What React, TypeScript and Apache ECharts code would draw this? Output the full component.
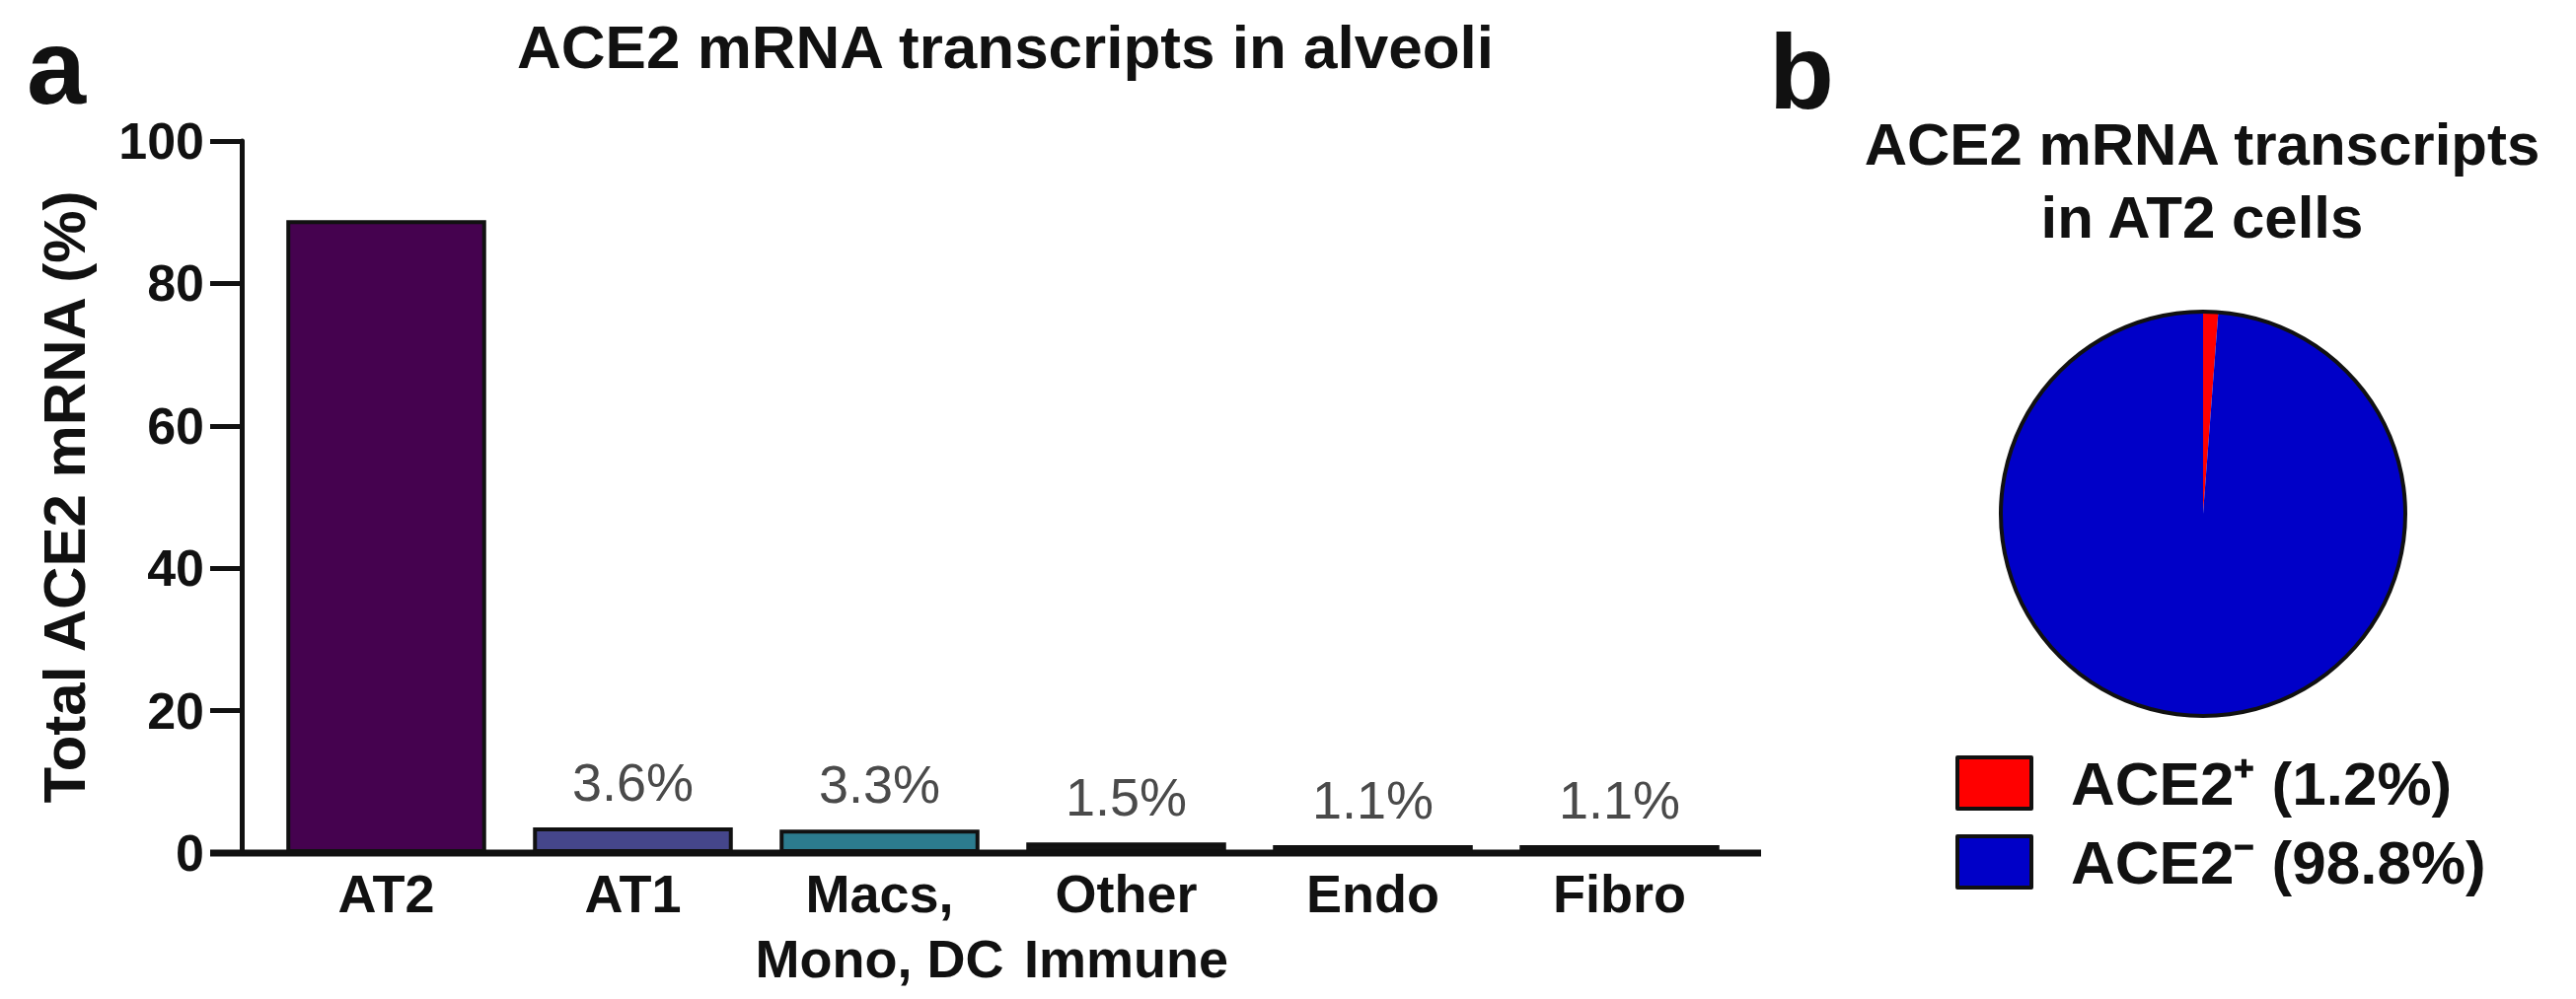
import React, { useEffect, useRef } from "react";
import * as echarts from "echarts";

// ---- data ----
const categories = ["AT2", "AT1", "Macs,\nMono, DC", "Other\nImmune", "Endo", "Fibro"];
const shares = [88.9, 3.6, 3.3, 1.5, 1.1, 1.1];
const showShareLabel = [false, true, true, true, true, true];
const barColors = ["#45024f", "#45468b", "#2c7b8e", "#141414", "#141414", "#141414"];
const yMin = 0;
const yMax = 100;
const yInterval = 20;

const pieNames = ["ACE2\u207A", "ACE2\u207B"];
const pieValues = [1.2, 98.8];
const pieColors = ["#ff0000", "#0000c8"];

const barTitle = "ACE2 mRNA transcripts in alveoli";
const pieTitle = "ACE2 mRNA transcripts\nin AT2 cells";
const yName = "Total ACE2 mRNA (%)";

const FONT = "'Liberation Sans', Arial, Helvetica, sans-serif";
const INK = "#111111";

// ---- layout ----
const W = 2611;
const H = 1013;
const gridLeft = 266.5;
const gridWidth = 1500;
const gridTop = 143;
const gridBottom = 148;
const yAxisOffset = 21.5;
const axisY = H - gridBottom;
const pieCenter = [2233, 521];
const pieRadius = 205;

export default function App() {
  const ref = useRef<HTMLDivElement>(null);

  useEffect(() => {
    if (!ref.current) return;
    const chart = echarts.init(ref.current, null, { renderer: "svg" });

    const barData = shares.map((v, i) => ({
      value: v,
      itemStyle: { color: barColors[i] },
      label: { show: showShareLabel[i] },
    }));

    const pieData = pieNames.map((n, i) => ({
      name: n,
      value: pieValues[i],
      itemStyle: { color: pieColors[i] },
    }));

    const option: any = {
      animation: false,
      backgroundColor: "#ffffff",
      textStyle: { fontFamily: FONT },
      grid: {
        left: gridLeft,
        top: gridTop,
        width: gridWidth,
        bottom: gridBottom,
        containLabel: false,
      },
      xAxis: {
        type: "category",
        data: categories,
        axisLine: { show: false },
        axisTick: { show: false },
        axisLabel: {
          color: INK,
          fontFamily: FONT,
          fontWeight: "bold",
          fontSize: 54,
          lineHeight: 66,
          margin: 8,
          interval: 0,
        },
      },
      yAxis: {
        type: "value",
        min: yMin,
        max: yMax,
        interval: yInterval,
        offset: yAxisOffset,
        name: yName,
        nameLocation: "middle",
        nameRotate: 90,
        nameGap: 150,
        nameTextStyle: {
          color: INK,
          fontFamily: FONT,
          fontWeight: "bold",
          fontSize: 60,
        },
        axisLine: { show: true, lineStyle: { color: INK, width: 5 } },
        axisTick: {
          show: true,
          inside: false,
          length: 32,
          lineStyle: { color: INK, width: 5 },
        },
        axisLabel: {
          color: INK,
          fontFamily: FONT,
          fontWeight: "bold",
          fontSize: 52,
          margin: 38,
        },
        splitLine: { show: false },
      },
      legend: {
        data: pieNames,
        orient: "vertical",
        left: 1977,
        top: 754,
        itemWidth: 75,
        itemHeight: 52,
        itemGap: 10,
        icon: "rect",
        selectedMode: false,
        itemStyle: { borderColor: INK, borderWidth: 4 },
        formatter: (name: string) => {
          const i = pieNames.indexOf(name);
          return `${name} (${pieValues[i]}%)`;
        },
        textStyle: {
          color: INK,
          fontFamily: FONT,
          fontWeight: "bold",
          fontSize: 62,
          lineHeight: 52,
          padding: [18, 0, 0, 35],
        },
      },
      series: [
        {
          type: "bar",
          data: barData,
          barCategoryGap: "19%",
          itemStyle: { borderColor: INK, borderWidth: 4 },
          label: {
            position: "top",
            distance: 19,
            formatter: (p: any) => `${p.value}%`,
            color: "#4a4a4a",
            fontFamily: FONT,
            fontWeight: "normal",
            fontSize: 54,
          },
          silent: true,
        },
        {
          type: "pie",
          center: pieCenter,
          radius: pieRadius,
          startAngle: 90,
          clockwise: true,
          data: pieData,
          label: { show: false },
          labelLine: { show: false },
          itemStyle: { borderWidth: 0 },
          emphasis: { disabled: true },
          silent: true,
        },
        {
          type: "pie",
          center: pieCenter,
          radius: [pieRadius - 2, pieRadius + 2],
          data: [{ name: "outline", value: 1, itemStyle: { color: INK } }],
          label: { show: false },
          labelLine: { show: false },
          emphasis: { disabled: true },
          silent: true,
        },
      ],
      graphic: [
        {
          type: "line",
          shape: { x1: gridLeft - yAxisOffset - 32, y1: axisY, x2: 1785, y2: axisY },
          style: { stroke: INK, lineWidth: 7 },
          silent: true,
        },
        {
          type: "text",
          x: 27,
          y: 67,
          style: {
            text: "a",
            fill: INK,
            font: `bold 108px ${FONT}`,
            textAlign: "left",
            textVerticalAlign: "middle",
            align: "left",
            verticalAlign: "middle",
          },
        },
        {
          type: "text",
          x: 1793,
          y: 72,
          style: {
            text: "b",
            fill: INK,
            font: `bold 108px ${FONT}`,
            textAlign: "left",
            textVerticalAlign: "middle",
            align: "left",
            verticalAlign: "middle",
          },
        },
        {
          type: "text",
          x: 1019,
          y: 47,
          style: {
            text: barTitle,
            fill: INK,
            font: `bold 62px ${FONT}`,
            textAlign: "center",
            textVerticalAlign: "middle",
            align: "center",
            verticalAlign: "middle",
          },
        },
        {
          type: "text",
          x: 2232,
          y: 183,
          style: {
            text: pieTitle,
            fill: INK,
            font: `bold 60px ${FONT}`,
            lineHeight: 74,
            textAlign: "center",
            textVerticalAlign: "middle",
            align: "center",
            verticalAlign: "middle",
          },
        },
      ],
    };

    chart.setOption(option);
    return () => chart.dispose();
  }, []);

  return (
    <div
      ref={ref}
      style={{ position: "fixed", left: 0, top: 0, width: W, height: H, background: "#fff" }}
    />
  );
}
